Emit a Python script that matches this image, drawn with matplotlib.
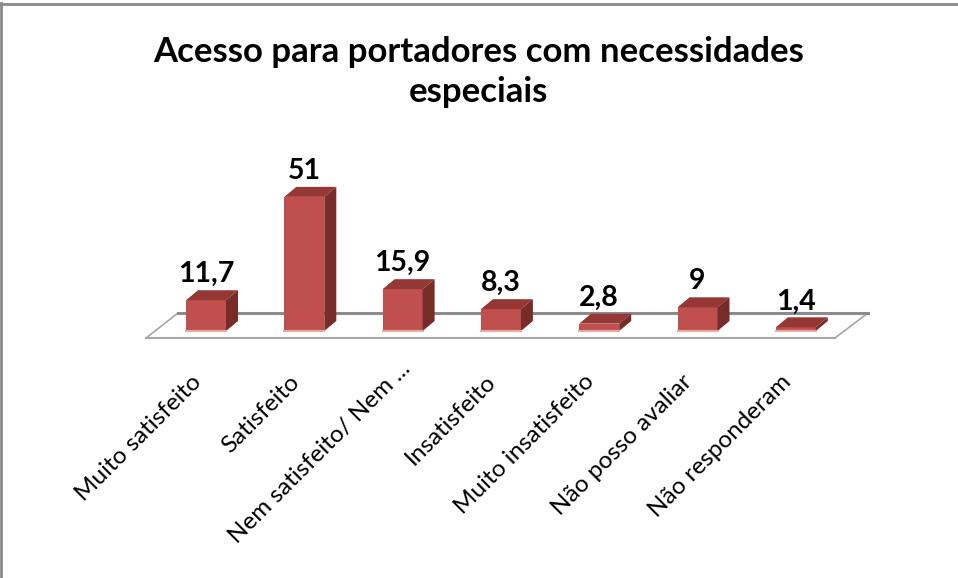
import numpy as np
import matplotlib
matplotlib.use('Agg')
import matplotlib.pyplot as plt
from matplotlib.patches import Polygon

categories = ['Muito satisfeito', 'Satisfeito', 'Nem satisfeito/ Nem ...', 'Insatisfeito',
              'Muito insatisfeito', 'Não posso avaliar', 'Não responderam']
values = [11.7, 51, 15.9, 8.3, 2.8, 9, 1.4]
value_labels = ['11,7', '51', '15,9', '8,3', '2,8', '9', '1,4']
title = 'Acesso para portadores com necessidades\nespeciais'

W, H = 958, 578
plt.rcParams['font.family'] = ['Lato', 'DejaVu Sans']

# one axes over the whole figure, scaled so the categories land where the original has them
x0_px, step_px = 206, 98.3
y0_px, unit_px = 331, 2.63
fig = plt.figure(figsize=(W / 100, H / 100), dpi=100)
ax = fig.add_axes([0, 0, 1, 1])
ax.set_xlim(-x0_px / step_px, (W - x0_px) / step_px)
ax.set_ylim(-(H - y0_px) / unit_px, y0_px / unit_px)
ax.axis('off')

# outer frame of the chart
fig.add_artist(plt.Line2D([0.5 / W, 0.5 / W], [0, 1 - 3 / H], color='#8a8a8a', lw=2))
fig.add_artist(plt.Line2D([0, 1], [1 - 4 / H, 1 - 4 / H], color='#8a8a8a', lw=2))

width = 40 / step_px
dx = 12 / step_px
dy = 10 / unit_px
xs = np.arange(len(values))


def px(x, y):
    return (x - x0_px) / step_px, (y0_px - y) / unit_px


# floor of the 3d chart
ax.plot(*zip(px(146, 338), px(835, 338)), color='#a6a6a6', lw=1.5, zorder=1)
ax.plot(*zip(px(146, 338), px(178, 313)), color='#a6a6a6', lw=1.2, zorder=1)
ax.plot(*zip(px(835, 338), px(868, 313)), color='#a6a6a6', lw=1.2, zorder=1)
ax.plot(*zip(px(178, 313), px(868, 313)), color='#8c8c8c', lw=2.2, zorder=1)

ax.bar(xs, values, width=width, color='#c0504d', zorder=3)
for x, v, lab, cat in zip(xs, values, value_labels, categories):
    l, r = x - width / 2, x + width / 2
    ax.add_patch(Polygon([(l, v), (r, v), (r + dx, v + dy), (l + dx, v + dy)], color='#953735', lw=0, zorder=3))
    ax.add_patch(Polygon([(r, 0), (r + dx, dy), (r + dx, v + dy), (r, v)], color='#772c2a', lw=0, zorder=3))
    ax.plot([l, r], [0, 0], color='#e5a9a7', lw=1.5, zorder=4)
    ax.text(x, v + dy + 1.1, lab, ha='center', va='bottom', fontsize=20.5, fontweight='bold', color='black', zorder=5)
    # the truncated label sits further along its slope in the original
    shift = 13 if cat.endswith('...') else 0
    ax.text(x - 0.16 + shift / step_px, -15.2 + shift / unit_px, cat, rotation=45, rotation_mode='anchor',
            ha='right', va='top', fontsize=17.5, color='black')

ax.text(*px(479, 72), title, ha='center', va='center', fontsize=25, fontweight='bold', color='black', linespacing=1.3)

fig.savefig('out.png', dpi=100)
